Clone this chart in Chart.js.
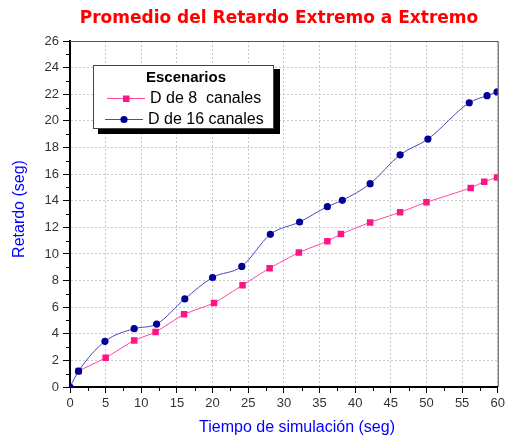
<!DOCTYPE html>
<html>
<head>
<meta charset="utf-8">
<script src="https://cdn.jsdelivr.net/npm/chart.js@4/dist/chart.umd.min.js"></script>
<style>
  html, body { margin: 0; padding: 0; background: #fff; }
  #wrap { width: 508px; height: 439px; position: relative; }
</style>
</head>
<body>
<div id="wrap"><canvas id="c" width="508" height="439"></canvas></div>
<script>
const chartTitle = 'Promedio del Retardo Extremo a Extremo';
const xTitle = 'Tiempo de simulación (seg)';
const yTitle = 'Retardo (seg)';
const legendTitle = 'Escenarios';
const seriesNames = ['D de 8  canales', 'D de 16 canales'];

const x8 = [1.2, 5, 9, 12, 16, 20.2, 24.2, 28, 32.1, 36.1, 38, 42.1, 46.3, 50, 56.2, 58.1, 59.9];
const y8 = [1.2, 2.2, 3.5, 4.13, 5.46, 6.32, 7.65, 8.93, 10.1, 10.96, 11.49, 12.37, 13.13, 13.88, 14.96, 15.43, 15.74];
const x16 = [0, 1.2, 4.9, 9, 12.15, 16.1, 20, 24.1, 28.1, 32.2, 36.1, 38.2, 42.1, 46.3, 50.2, 56, 58.5, 59.9];
const y16 = [0, 1.19, 3.43, 4.38, 4.73, 6.62, 8.23, 9.06, 11.47, 12.4, 13.55, 14.03, 15.28, 17.45, 18.63, 21.36, 21.89, 22.17];

const xMin = 0, xMax = 60, xStep = 5;
const yMin = 0, yMax = 26, yStep = 2;

const pinkLine = '#ff46a3', pinkMark = '#ff1488';
const blueLine = '#4848bd', blueMark = '#000099';

const pts = (xs, ys) => xs.map((x, i) => ({x: x, y: ys[i]}));

const extras = {
  id: 'extras',
  afterDraw(chart) {
    const ctx = chart.ctx;
    const a = chart.chartArea;
    const xs = chart.scales.x, ys = chart.scales.y;
    ctx.save();
    // frame top/right
    ctx.strokeStyle = '#555';
    ctx.lineWidth = 1;
    ctx.beginPath();
    ctx.moveTo(a.left, a.top + 0.5); ctx.lineTo(a.right + 0.5, a.top + 0.5);
    ctx.lineTo(a.right + 0.5, a.bottom);
    ctx.stroke();
    // minor ticks
    ctx.strokeStyle = '#000';
    ctx.beginPath();
    for (let v = xMin + xStep / 2; v < xMax; v += xStep) {
      const px = Math.round(xs.getPixelForValue(v)) + 0.5;
      ctx.moveTo(px, a.bottom); ctx.lineTo(px, a.bottom + 4);
    }
    for (let v = yMin + yStep / 2; v < yMax; v += yStep) {
      const py = Math.round(ys.getPixelForValue(v)) + 0.5;
      ctx.moveTo(a.left, py); ctx.lineTo(a.left - 4, py);
    }
    ctx.stroke();
    // title
    ctx.fillStyle = '#ff0000';
    ctx.font = 'bold 17px "DejaVu Sans"';
    ctx.textAlign = 'center';
    ctx.textBaseline = 'middle';
    ctx.fillText(chartTitle, 279, 19);
    // axis titles
    ctx.fillStyle = '#0000ff';
    ctx.font = '16px "Liberation Sans"';
    ctx.fillText(xTitle, 297, 428);
    ctx.save();
    ctx.translate(20, 209);
    ctx.rotate(-Math.PI / 2);
    ctx.fillText(yTitle, 0, 0);
    ctx.restore();
    // legend
    ctx.fillStyle = '#000';
    ctx.fillRect(98, 69, 182, 65);
    ctx.fillStyle = '#fff';
    ctx.fillRect(93, 65, 181, 64);
    ctx.strokeStyle = '#444';
    ctx.strokeRect(93.5, 65.5, 180, 63);
    ctx.fillStyle = '#000';
    ctx.font = 'bold 15px "Liberation Sans"';
    ctx.fillText(legendTitle, 186, 78);
    ctx.textAlign = 'left';
    ctx.font = '16px "Liberation Sans"';
    // entry 1
    ctx.strokeStyle = pinkLine;
    ctx.beginPath(); ctx.moveTo(107, 98.5); ctx.lineTo(145, 98.5); ctx.stroke();
    ctx.fillStyle = pinkMark;
    ctx.fillRect(123, 95.5, 6.5, 6.5);
    ctx.fillStyle = '#000';
    ctx.fillText(seriesNames[0], 150, 99);
    // entry 2
    ctx.strokeStyle = blueLine;
    ctx.beginPath(); ctx.moveTo(105, 119.5); ctx.lineTo(143, 119.5); ctx.stroke();
    ctx.fillStyle = blueMark;
    ctx.beginPath(); ctx.arc(124, 119.5, 3.6, 0, Math.PI * 2); ctx.fill();
    ctx.fillStyle = '#000';
    ctx.fillText(seriesNames[1], 148, 120);
    ctx.restore();
  }
};

const tickFont = {family: '"Liberation Sans"', size: 13};

new Chart(document.getElementById('c'), {
  type: 'line',
  data: {
    datasets: [
      {
        label: seriesNames[1],
        data: pts(x16, y16),
        borderColor: blueLine,
        borderWidth: 1,
        backgroundColor: blueMark,
        pointBackgroundColor: blueMark,
        pointBorderColor: blueMark,
        pointStyle: 'circle',
        pointRadius: 3.6,
        pointBorderWidth: 0,
        cubicInterpolationMode: 'monotone',
        clip: 0,
        order: 0
      },
      {
        label: seriesNames[0],
        data: pts(x8, y8),
        borderColor: pinkLine,
        borderWidth: 1,
        backgroundColor: pinkMark,
        pointBackgroundColor: pinkMark,
        pointBorderColor: pinkMark,
        pointStyle: 'rect',
        pointRadius: 4.6,
        pointBorderWidth: 0,
        tension: 0.2,
        clip: 0,
        order: 1
      }
    ]
  },
  options: {
    responsive: false,
    animation: false,
    events: [],
    layout: {padding: {left: 0, top: 41, right: 10, bottom: 0}},
    plugins: {legend: {display: false}, title: {display: false}, tooltip: {enabled: false}},
    scales: {
      x: {
        type: 'linear',
        min: xMin, max: xMax,
        ticks: {stepSize: xStep, color: '#333', font: tickFont, padding: 3, maxRotation: 0},
        grid: {color: '#c8c8c8', lineWidth: 1, tickColor: '#000', tickLength: 6, tickBorderDash: []},
        border: {color: '#000', width: 2, dash: [2, 2]},
        afterFit(s) { s.height = 52; }
      },
      y: {
        type: 'linear',
        min: yMin, max: yMax,
        ticks: {stepSize: yStep, color: '#333', font: tickFont, padding: 4},
        grid: {color: '#c8c8c8', lineWidth: 1, tickColor: '#000', tickLength: 7, tickBorderDash: []},
        border: {color: '#000', width: 2, dash: [2, 2]},
        afterFit(s) { s.width = 70; }
      }
    }
  },
  plugins: [extras]
});
</script>
</body>
</html>
